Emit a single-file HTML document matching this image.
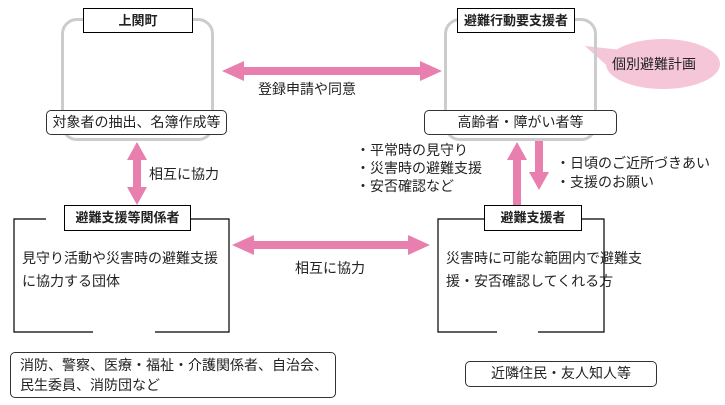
<!DOCTYPE html>
<html><head><meta charset="utf-8"><style>
body{margin:0;width:725px;height:405px;background:#fff;position:relative;overflow:hidden;font-family:"Liberation Sans","Noto Sans CJK JP",sans-serif;color:#222}
.a{position:absolute;box-sizing:border-box}
.t{position:absolute;font-size:14px;white-space:nowrap;line-height:18px}
.tb{border:1px solid #000;background:#fff;font-weight:bold;font-size:13px;text-align:center;line-height:23px}
.gb{border:3px solid #ccc;border-radius:16px}
.sb{border:1px solid #333;background:#fff;border-radius:5px;font-size:14px;text-align:center;line-height:22px}
</style></head><body>
<svg class="a" style="left:0;top:0" width="725" height="405">
<g fill="#e87fae">
<polygon points="222,71 244,61 244,67 420,67 420,61 442,71 420,81 420,75 244,75 244,81"/>
<polygon points="137,142 147,160 141,160 141,187 147,187 137,205 127,187 133,187 133,160 127,160"/>
<polygon points="232,245 254,235 254,241 408,241 408,235 430,245 408,255 408,249 254,249 254,255"/>
<polygon points="517,142 527,160 521,160 521,205 513,205 513,160 507,160"/>
<polygon points="539,190 549,172 543,172 543,140 535,140 535,172 529,172"/>
</g>
<path d="M585,46 L622,50 L614,72 Z" fill="#f5c6d8"/>
<ellipse cx="663" cy="64" rx="57" ry="25" fill="#f5c6d8"/>
<g stroke="#000" stroke-width="1.2" fill="none">
<polyline points="46,219 14,219 14,332 93,332"/>
<polyline points="136,219 229,219 229,332 155,332"/>
<polyline points="484,219 438,219 438,332 497,332"/>
<polyline points="582,219 604,219 604,332 538,332"/>
</g>
</svg>
<div class="a gb" style="left:61px;top:18px;width:153px;height:123px"></div>
<div class="a gb" style="left:444px;top:18px;width:153px;height:123px"></div>
<div class="a tb" style="left:83px;top:8px;width:110px;height:25px">上関町</div>
<div class="a tb" style="left:457px;top:8px;width:118px;height:25px">避難行動要支援者</div>
<div class="a sb" style="left:46px;top:110px;width:181px;height:25px">対象者の抽出、名簿作成等</div>
<div class="a sb" style="left:424px;top:110px;width:193px;height:25px">高齢者・障がい者等</div>
<div class="t" style="left:612px;top:55px">個別避難計画</div>
<div class="t" style="left:258px;top:80px">登録申請や同意</div>
<div class="t" style="left:149px;top:165px">相互に協力</div>
<div class="t" style="left:356px;top:141px;line-height:18px">・平常時の見守り<br>・災害時の避難支援<br>・安否確認など</div>
<div class="t" style="left:556px;top:154px;line-height:19px">・日頃のご近所づきあい<br>・支援のお願い</div>
<div class="a tb" style="left:64px;top:205px;width:127px;height:26px">避難支援等関係者</div>
<div class="a tb" style="left:484px;top:205px;width:98px;height:26px">避難支援者</div>
<div class="t" style="left:22px;top:247px;line-height:23px">見守り活動や災害時の避難支援<br>に協力する団体</div>
<div class="t" style="left:446px;top:247px;line-height:23px">災害時に可能な範囲内で避難支<br>援・安否確認してくれる方</div>
<div class="t" style="left:295px;top:259px">相互に協力</div>
<div class="a sb" style="left:10px;top:352px;width:326px;height:46px;text-align:left;padding-left:9px;line-height:20px;padding-top:2px">消防、警察、医療・福祉・介護関係者、自治会、<br>民生委員、消防団など</div>
<div class="a sb" style="left:465px;top:361px;width:192px;height:26px">近隣住民・友人知人等</div>
</body></html>
